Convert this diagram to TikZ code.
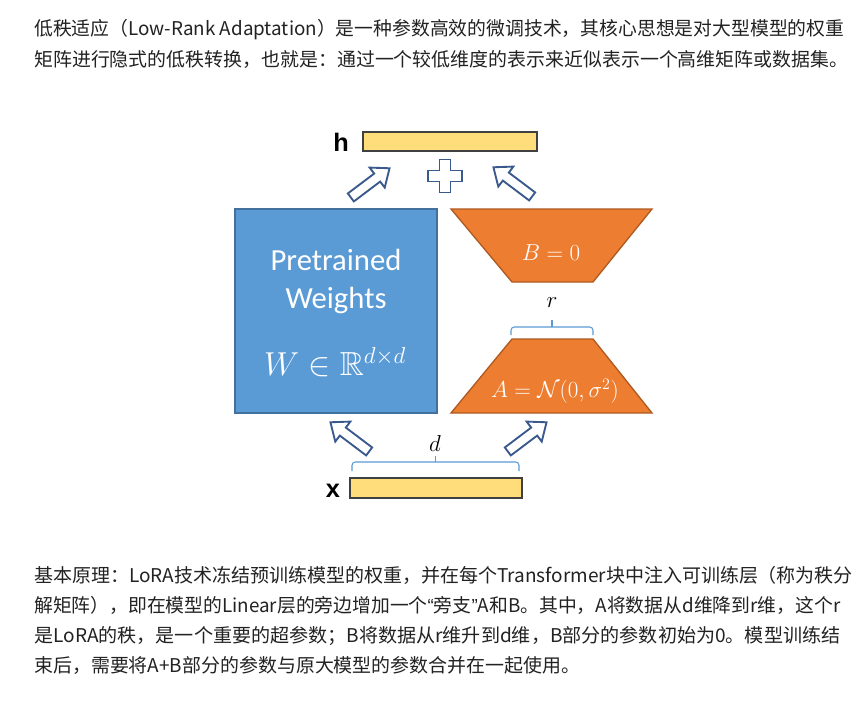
\documentclass[tikz,border=0pt]{standalone}
\usepackage{amssymb}
\usepackage{graphicx}
\usepackage{fontspec}
\newfontfamily\cjk{Noto Sans CJK SC}
\newfontfamily\calibfont{Carlito}
\newfontfamily\labelfont{Liberation Sans}
\usetikzlibrary{decorations.pathreplacing}

\definecolor{barfill}{HTML}{FFDD7A}
\definecolor{bardraw}{HTML}{404040}
\definecolor{wblue}{HTML}{5B9BD5}
\definecolor{wblueline}{HTML}{41719C}
\definecolor{lorange}{HTML}{ED7D31}
\definecolor{lorangeline}{HTML}{AE5A21}
\definecolor{arrowline}{HTML}{3A5A8E}
\definecolor{textgray}{HTML}{222222}

% one line of the paragraphs, set to the width it has on the page
\newcommand{\paraline}[2]{\resizebox{#1}{\height}{#2}}
\newcommand{\openq}{{\labelfont “}}
\newcommand{\closeq}{{\labelfont ”}}

\tikzset{
  blockarrow/.pic={
    \path[hollow] (-24,-5) -- (9,-5) -- (9,-12.5) -- (24.5,0) -- (9,12.5) -- (9,5) -- (-24,5) -- cycle;
  },
  plussign/.pic={
    \path[hollow] (-5.5,-16.5) -- (5.5,-16.5) -- (5.5,-5.5) -- (17,-5.5) -- (17,5.5) -- (5.5,5.5)
      -- (5.5,16.5) -- (-5.5,16.5) -- (-5.5,5.5) -- (-17,5.5) -- (-17,-5.5) -- (-5.5,-5.5) -- cycle;
  }
}

\begin{document}
\begin{tikzpicture}[x=0.75pt,y=-0.75pt,
    para/.style={anchor=base west,inner sep=0pt,text=textgray,
      font=\cjk\fontsize{14.2pt}{17pt}\selectfont},
    vecbar/.style={draw=bardraw,line width=1.1pt,fill=barfill,inner sep=0pt},
    veclabel/.style={inner sep=0pt,font=\labelfont\bfseries\fontsize{19pt}{22pt}\selectfont},
    wbox/.style={draw=wblueline,line width=1pt,fill=wblue,inner sep=0pt},
    lblock/.style={draw=lorangeline,line width=1pt,fill=lorange},
    wtext/.style={text=white,align=center,inner sep=0pt},
    dimline/.style={draw=wblue,line width=0.8pt,rounded corners=2.5pt},
    hollow/.style={draw=arrowline,line width=1.4pt,fill=white,line join=miter}]
  \fill[white] (0,0) rectangle (868,710);
  \useasboundingbox (0,0) rectangle (868,710);

  % text above
  \node (top1) [para] at (34,36) {\paraline{607.5pt}{低秩适应（Low-Rank Adaptation）是一种参数高效的微调技术，其核心思想是对大型模型的权重}};
  \node (top2) [para] at (34,67) {\paraline{610.5pt}{矩阵进行隐式的低秩转换，也就是：通过一个较低维度的表示来近似表示一个高维矩阵或数据集。}};

  % output h
  \node (hbar) [vecbar,minimum width=130.5pt,minimum height=14.25pt] at (450,141.5) {};
  \node (hlab) [veclabel] at (341,142) {h};
  \pic at (370,183) [rotate=37] {blockarrow};
  \pic at (445,176) {plussign};
  \pic at (513,182) [rotate=143] {blockarrow};

  % frozen weights
  \node (weights) [wbox,minimum width=151.5pt,minimum height=153pt] at (336,311) {};
  \node (wtitle) [wtext,font=\calibfont\fontsize{23pt}{28.5pt}\selectfont] at (336,281) {Pretrained\\Weights};
  \node (wmath) [wtext,font=\fontsize{25pt}{30pt}\selectfont] at (335,362) {$W\in\mathbb{R}^{d\times d}$};

  % low-rank branch
  \filldraw[lblock] (451,209) -- (652,209) -- (593,282) -- (512,282) -- cycle;
  \node (bmat) [wtext,font=\fontsize{18pt}{22pt}\selectfont] at (551,253) {$B=0$};
  \node (rlab) [inner sep=0pt,font=\fontsize{17pt}{20pt}\selectfont] at (552,303) {$r$};
  \draw[dimline] (511,335) |- (593,327) -- (593,335);
  \draw[dimline] (552,327) -- (552,320);
  \filldraw[lblock] (512,339) -- (593,339) -- (652,413) -- (451,413) -- cycle;
  \node (amat) [wtext,font=\fontsize{18pt}{22pt}\selectfont] at (555,391) {$A=\mathcal{N}(0,\sigma^2)$};

  % input x
  \pic at (350,437) [rotate=143] {blockarrow};
  \pic at (527,437) [rotate=37] {blockarrow};
  \node (dlab) [inner sep=0pt,font=\fontsize{17pt}{20pt}\selectfont] at (435,443) {$d$};
  \draw[dimline] (352,471) |- (519,462) -- (519,471);
  \draw[dimline] (435.5,462) -- (435.5,456);
  \node (xbar) [vecbar,minimum width=129pt,minimum height=15pt] at (436,488) {};
  \node (xlab) [veclabel] at (333,491) {x};

  % text below
  \node (bot1) [para] at (34,582) {\paraline{614pt}{基本原理：LoRA技术冻结预训练模型的权重，并在每个Transformer块中注入可训练层（称为秩分}};
  \node (bot2) [para] at (34,612) {\paraline{604.5pt}{解矩阵），即在模型的Linear层的旁边增加一个\openq 旁支\closeq A和B。其中，A将数据从d维降到r维，这个r}};
  \node (bot3) [para] at (34,642) {\paraline{604.5pt}{是LoRA的秩，是一个重要的超参数；B将数据从r维升到d维，B部分的参数初始为0。模型训练结}};
  \node (bot4) [para] at (34,672) {\paraline{409.5pt}{束后，需要将A+B部分的参数与原大模型的参数合并在一起使用。}};
\end{tikzpicture}
\end{document}
